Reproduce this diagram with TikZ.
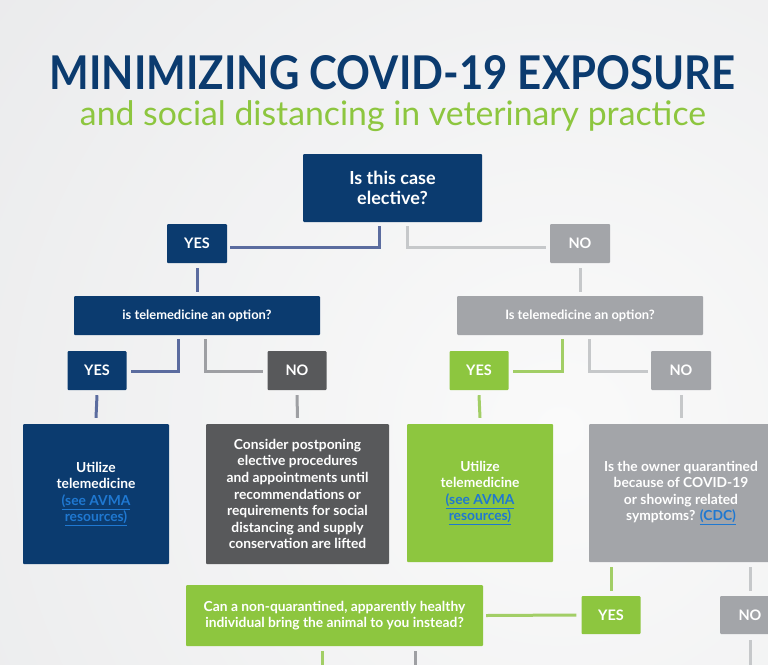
\documentclass[tikz,border=0pt]{standalone}
\usepackage{fontspec}
\setmainfont{Lato}
\usepackage{graphicx}
\definecolor{navy}{HTML}{0B3B6F}
\definecolor{lblue}{HTML}{5B6C9F}
\definecolor{vgreen}{HTML}{8DC63F}
\definecolor{lgreen}{HTML}{A2CE66}
\definecolor{mgray}{HTML}{A3A5A9}
\definecolor{dgray}{HTML}{58595B}
\definecolor{lgray}{HTML}{C6C8CA}
\definecolor{cgray}{HTML}{9E9FA3}
\definecolor{linkblue}{HTML}{1F78D1}
\definecolor{bgin}{HTML}{FAFAFA}
\definecolor{bgout}{HTML}{E2E3E5}
\tikzset{
  box/.style={rectangle, rounded corners=1pt, inner sep=0pt, align=center, text=white,
    font=\bfseries\fontsize{13.8}{16.6}\selectfont},
  tag/.style={box, minimum width=60pt, minimum height=39pt, font=\bfseries\fontsize{14.5}{16}\selectfont},
  conn/.style={line width=3pt},
}
\newcommand{\lnk}[1]{{\color{linkblue}\underline{#1}}}
\begin{document}
\begin{tikzpicture}[x=1pt,y=-1pt]
\useasboundingbox (0,0) rectangle (768,664);
\begin{scope}
\clip (0,0) rectangle (768,664);
\shade[inner color=bgin, outer color=bgout] (560,430) circle (1100);
\end{scope}

% title
\node[inner sep=0pt] (title) at (392.5,73) {\resizebox{685pt}{34pt}{\color{navy}\bfseries MINIMIZING COVID-19 EXPOSURE}};
\node[inner sep=0pt, anchor=base] (sub) at (393,125) {\resizebox{626pt}{!}{\color{vgreen}and social distancing in veterinary practice}};

% nodes
\node[box, fill=navy, minimum width=179pt, minimum height=68pt, font=\bfseries\fontsize{18}{20.5}\selectfont] (q1) at (392.5,188) {Is this case\\elective?};
\node[tag, fill=navy] (yes1) at (197,243.5) {YES};
\node[tag, fill=mgray] (no1) at (580,243.5) {NO};
\node[box, fill=navy, minimum width=246pt, minimum height=39pt, font=\bfseries\fontsize{12.9}{15}\selectfont] (q2l) at (197,315.5) {is telemedicine an option?};
\node[box, fill=mgray, minimum width=246pt, minimum height=39pt, font=\bfseries\fontsize{12.9}{15}\selectfont] (q2r) at (580,315.5) {Is telemedicine an option?};
\node[tag, fill=navy, minimum width=59pt] (yes2l) at (97,370.5) {YES};
\node[tag, fill=dgray, minimum width=59pt] (no2l) at (297,370.5) {NO};
\node[tag, fill=vgreen, minimum width=59pt] (yes2r) at (479,370.5) {YES};
\node[tag, fill=mgray] (no2r) at (681,370.5) {NO};
\node[box, fill=navy, minimum width=146pt, minimum height=140pt] (a) at (96,494) {Utilize\\telemedicine\\\lnk{(see AVMA}\\\lnk{resources)}};
\node[box, fill=dgray, minimum width=183pt, minimum height=140pt] (b) at (297.5,494) {Consider postponing\\elective procedures\\and appointments until\\recommendations or\\requirements for social\\distancing and supply\\conservation are lifted};
\node[box, fill=vgreen, minimum width=146pt, minimum height=138pt] (c) at (480,493) {Utilize\\telemedicine\\\lnk{(see AVMA}\\\lnk{resources)}};
\node[box, fill=mgray, minimum width=184pt, minimum height=138pt] (d) at (681,493) {Is the owner quarantined\\because of COVID-19\\or showing related\\symptoms? \lnk{(CDC)}};
\node[box, fill=vgreen, minimum width=297pt, minimum height=61pt] (e) at (334.5,615.5) {Can a non-quarantined, apparently healthy\\individual bring the animal to you instead?};
\node[tag, fill=vgreen, minimum width=59pt, minimum height=38pt] (yes3) at (611,615) {YES};
\node[tag, fill=mgray, minimum height=38pt] (no3) at (750,615) {NO};

% connectors
\draw[conn, lblue] ([xshift=-13.5pt,yshift=-4pt]q1.south) |- ([xshift=3pt,yshift=-3.5pt]yes1.east);
\draw[conn, lgray] ([xshift=14.5pt,yshift=-4pt]q1.south) |- ([xshift=-4pt,yshift=-3.5pt]no1.west);
\draw[conn, lblue] ([yshift=-5pt]yes1.south) -- ([yshift=4pt]q2l.north);
\draw[conn, lgray] ([yshift=-5pt]no1.south) -- ([yshift=4pt]q2r.north);
\draw[conn, lblue] ([xshift=-19pt,yshift=-4pt]q2l.south) |- ([xshift=4pt,yshift=-0.5pt]yes2l.east);
\draw[conn, cgray] ([xshift=8pt,yshift=-4pt]q2l.south) |- ([xshift=-4pt,yshift=-0.5pt]no2l.west);
\draw[conn, lgreen] ([xshift=-18pt,yshift=-4pt]q2r.south) |- ([xshift=4pt,yshift=-0.5pt]yes2r.east);
\draw[conn, lgray] ([xshift=9pt,yshift=-4pt]q2r.south) |- ([xshift=-3pt,yshift=-0.5pt]no2r.west);
\draw[conn, lblue] ([yshift=-5pt]yes2l.south) -- ([yshift=6pt]a.north);
\draw[conn, cgray] ([yshift=-5pt]no2l.south) -- ([yshift=6pt]b.north);
\draw[conn, lgreen] ([yshift=-5pt]yes2r.south) -- ([yshift=6pt]c.north);
\draw[conn, lgray] ([yshift=-5pt]no2r.south) -- ([yshift=6pt]d.north);
\draw[conn, lgreen] ([xshift=-70pt,yshift=-5pt]d.south) -- ([yshift=5pt]yes3.north);
\draw[conn, lgray] ([xshift=69pt,yshift=-5pt]d.south) -- ([yshift=5pt]no3.north);
\draw[conn, lgreen] ([xshift=-5pt]yes3.west) -- ([xshift=3pt]e.east);
\coordinate (e1) at (322,668);
\coordinate (e2) at (415,668);
\coordinate (e3) at (750,668);
\draw[conn, lgreen] ([xshift=-12.5pt,yshift=-5pt]e.south) -- (e1);
\draw[conn, cgray] ([xshift=80.5pt,yshift=-5pt]e.south) -- (e2);
\draw[conn, lgray] ([yshift=-6pt]no3.south) -- (e3);
\end{tikzpicture}
\end{document}
